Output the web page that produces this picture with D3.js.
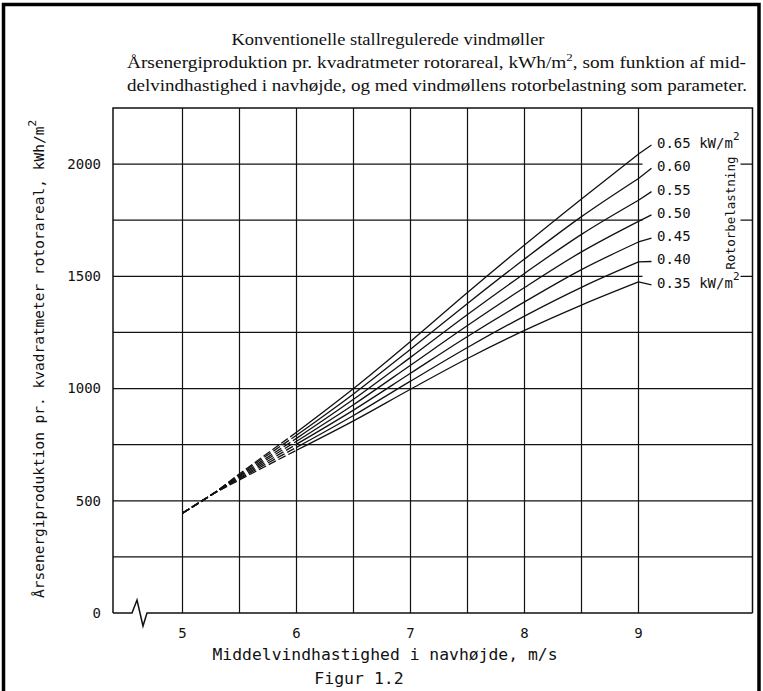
<!DOCTYPE html>
<html><head><meta charset="utf-8">
<script src="https://cdn.jsdelivr.net/npm/d3@7"></script>
<style>
html,body{margin:0;padding:0;background:#fff;}
svg{display:block;}
</style></head>
<body>
<svg id="c" width="763" height="691"></svg>
<script>
// ---- data ----
const windSpeed = [5, 5.25, 5.5, 6, 6.5, 7, 7.5, 8, 8.5, 9];
const load035 = [445, 525, 593, 725, 856, 997, 1134, 1259, 1372, 1475];
const load040 = [445, 525, 598, 738, 880, 1033, 1183, 1323, 1451, 1564];
const load045 = [445, 525, 602, 752, 904, 1068, 1232, 1386, 1530, 1653];
const load050 = [445, 525, 607, 765, 928, 1104, 1281, 1450, 1609, 1745];
const load055 = [445, 525, 611, 778, 952, 1139, 1330, 1513, 1687, 1839];
const load060 = [445, 525, 616, 792, 976, 1175, 1379, 1577, 1766, 1936];
const load065 = [445, 525, 620, 805, 1000, 1210, 1428, 1640, 1845, 2045];
const loadLabels = ["0.65", "0.60", "0.55", "0.50", "0.45", "0.40", "0.35"];
const xTickLabels = [5, 6, 7, 8, 9];
const yTickLabels = [0, 500, 1000, 1500, 2000];
const xGrid = [5, 5.5, 6, 6.5, 7, 7.5, 8, 8.5, 9];
const yGrid = [250, 500, 750, 1000, 1250, 1500, 1750, 2000];

const series = [load065, load060, load055, load050, load045, load040, load035];

const svg = d3.select("#c");
const mono = "'DejaVu Sans Mono', 'Liberation Mono', monospace";
const serif = "'Liberation Serif', 'DejaVu Serif', serif";

// scales
const frameLeft = 113;
const x = d3.scaleLinear().domain([5, 10]).range([182.5, 752.5]);
const y = d3.scaleLinear().domain([0, 2250]).range([613, 108]);

// outer border
svg.append("path")
  .attr("d", "M3.5,691 V4.5 H759 V691")
  .attr("fill", "none").attr("stroke", "#000").attr("stroke-width", 3.5);

// titles
const t = svg.append("g").attr("font-family", serif).attr("fill", "#111");
t.append("text").attr("x", 388).attr("y", 45).attr("text-anchor", "middle")
  .attr("font-size", 16.5).attr("textLength", 313).attr("lengthAdjust", "spacingAndGlyphs")
  .text("Konventionelle stallregulerede vindmøller");
const l2 = t.append("text").attr("x", 127).attr("y", 68).attr("font-size", 16.5)
  .attr("textLength", 619).attr("lengthAdjust", "spacingAndGlyphs");
l2.append("tspan").text("Årsenergiproduktion pr. kvadratmeter rotorareal, kWh/m");
l2.append("tspan").attr("dy", -7).attr("font-size", 11).text("2");
l2.append("tspan").attr("dy", 7).text(", som funktion af mid-");
t.append("text").attr("x", 127).attr("y", 91).attr("font-size", 16.5)
  .attr("textLength", 620).attr("lengthAdjust", "spacingAndGlyphs")
  .text("delvindhastighed i navhøjde, og med vindmøllens rotorbelastning som  parameter.");

// gridlines
const g = svg.append("g").attr("stroke", "#111").attr("fill", "none");
g.selectAll("line.v").data(xGrid).join("line").attr("class", "v")
  .attr("x1", d => x(d)).attr("x2", d => x(d))
  .attr("y1", y(2250)).attr("y2", y(0)).attr("stroke-width", 1.2);
g.selectAll("line.h").data(yGrid).join("line").attr("class", "h")
  .attr("x1", frameLeft).attr("x2", x(10))
  .attr("y1", d => y(d)).attr("y2", d => y(d)).attr("stroke-width", 1.2);

// frame (left, top, right) and broken bottom axis
g.append("path")
  .attr("d", `M${frameLeft},${y(0)} V${y(2250)} H${x(10)} V${y(0)}`)
  .attr("stroke-width", 1.5);
g.append("path")
  .attr("d", `M${frameLeft},${y(0)} H132 L137,${y(0) - 13} L143,${y(0) + 13} L147,${y(0)} H${x(10)}`)
  .attr("stroke-width", 1.5);

// mask behind the right-hand labels
svg.append("rect").attr("x", x(9) + 4).attr("y", y(2120))
  .attr("width", x(10) - 12 - (x(9) + 4)).attr("height", y(1440) - y(2120))
  .attr("fill", "#fff");

// curves
const line = d3.line().x(d => x(d[0])).y(d => y(d[1])).curve(d3.curveMonotoneX);
const cg = svg.append("g").attr("fill", "none").attr("stroke", "#111").attr("stroke-width", 1.3);
series.forEach(vals => {
  const pts = windSpeed.map((w, i) => [w, vals[i]]);
  cg.append("path").attr("d", line(pts.filter(p => p[0] <= 6)))
    .attr("stroke-dasharray", "8,3");
  cg.append("path").attr("d", line(pts.filter(p => p[0] >= 6)));
});

// labels with leaders
const lg = svg.append("g").attr("font-family", mono).attr("font-size", 14).attr("fill", "#111");
series.forEach((vals, i) => {
  const ly = 143 + i * 23.3;
  const xe = x(9), ye = y(vals[vals.length - 1]);
  cg.append("line").attr("x1", xe).attr("y1", ye).attr("x2", xe + 13).attr("y2", ly + 2);
  const tx = lg.append("text").attr("x", 657).attr("y", ly).attr("dy", "0.35em");
  tx.append("tspan").text(loadLabels[i]);
  if (i === 0 || i === series.length - 1) {
    tx.append("tspan").text(" kW/m");
    tx.append("tspan").attr("dy", -8).attr("font-size", 11).text("2");
  }
});
lg.append("text").attr("transform", `translate(731,213) rotate(-90)`)
  .attr("text-anchor", "middle").attr("font-size", 12.5).attr("dy", "0.35em")
  .text("Rotorbelastning");

// tick labels
const tk = svg.append("g").attr("font-family", mono).attr("font-size", 14).attr("fill", "#111");
tk.selectAll("text.y").data(yTickLabels).join("text").attr("class", "y")
  .attr("x", frameLeft - 12).attr("y", d => y(d)).attr("dy", "0.35em")
  .attr("text-anchor", "end").text(d => d);
tk.selectAll("text.x").data(xTickLabels).join("text").attr("class", "x")
  .attr("x", d => x(d)).attr("y", 638).attr("text-anchor", "middle").text(d => d);

// axis titles
tk.append("text").attr("x", 385).attr("y", 660).attr("text-anchor", "middle")
  .attr("font-size", 15).attr("textLength", 345).attr("lengthAdjust", "spacingAndGlyphs")
  .text("Middelvindhastighed i navhøjde, m/s");
const yl = tk.append("text").attr("transform", "translate(44,598) rotate(-90)")
  .attr("font-size", 14.5);
yl.append("tspan").text("Årsenergiproduktion pr. kvadratmeter rotorareal, kWh/m");
yl.append("tspan").attr("dy", -8).attr("font-size", 11).text("2");
tk.append("text").attr("x", 359).attr("y", 684).attr("text-anchor", "middle")
  .attr("font-size", 16.5).text("Figur 1.2");
</script>
</body></html>
